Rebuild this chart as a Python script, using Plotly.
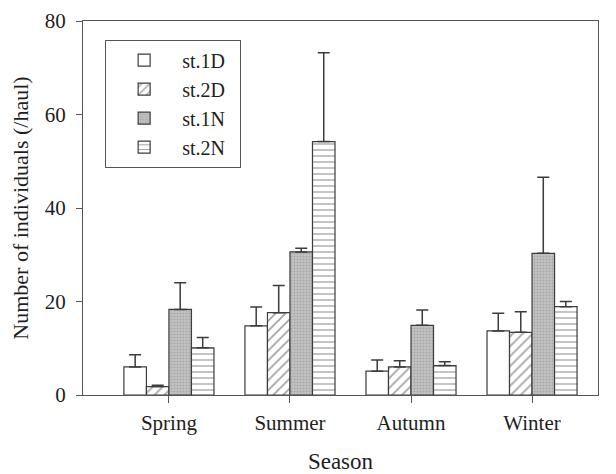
import plotly.graph_objects as go

seasons = ["Spring", "Summer", "Autumn", "Winter"]
series_names = ["st.1D", "st.2D", "st.1N", "st.2N"]
st1D = [6.0, 14.8, 5.1, 13.7]
st1D_err = [2.6, 4.0, 2.4, 3.8]
st2D = [1.8, 17.6, 6.0, 13.4]
st2D_err = [0.3, 5.8, 1.3, 4.4]
st1N = [18.3, 30.6, 14.9, 30.3]
st1N_err = [5.7, 0.8, 3.3, 16.3]
st2N = [10.1, 54.2, 6.3, 18.9]
st2N_err = [2.2, 19.0, 0.8, 1.1]

values = [st1D, st2D, st1N, st2N]
errors = [st1D_err, st2D_err, st1N_err, st2N_err]

edge = "#3c3c3c"
styles = [
    dict(color="white", pattern=None),
    dict(color="white", pattern=dict(shape="/", fgcolor="#4a4a4a", bgcolor="white", size=7, solidity=0.25)),
    dict(color="#b5b5b5", pattern=dict(shape=".", fgcolor="#8a8a8a", bgcolor="#c4c4c4", size=3, solidity=0.4)),
    dict(color="white", pattern=dict(shape="-", fgcolor="#4a4a4a", bgcolor="white", size=6, solidity=0.22)),
]

fig = go.Figure()
for i, (name, vals, errs) in enumerate(zip(series_names, values, errors)):
    st = styles[i]
    marker = dict(color=st["color"], line=dict(color=edge, width=1.2))
    if st["pattern"] is not None:
        marker["pattern"] = st["pattern"]
    fig.add_trace(go.Bar(
        x=seasons, y=vals, name=name + "\u00a0\u00a0", marker=marker,
        error_y=dict(type="data", array=errs, arrayminus=[0] * len(errs),
                     symmetric=False, color=edge, thickness=1.5, width=6),
    ))

font_family = "Liberation Serif, Times New Roman, serif"
fig.update_layout(
    width=616, height=474,
    margin=dict(l=83, r=18, t=21, b=79),
    paper_bgcolor="white", plot_bgcolor="white",
    barmode="group", bargap=0.256, bargroupgap=0,
    font=dict(family=font_family, size=21, color="#1e1e1e"),
    showlegend=True,
    legend=dict(
        x=0.043, y=0.95, xanchor="left", yanchor="top",
        bordercolor="#555555", borderwidth=1, bgcolor="white",
        font=dict(family=font_family, size=20, color="#1e1e1e"),
        itemwidth=66,
    ),
)
fig.update_xaxes(
    range=[-0.71, 3.545], automargin=False,
    showline=True, linecolor="#555555", linewidth=1.2, mirror=True,
    ticks="outside", ticklen=7, tickcolor="#555555",
    showgrid=False,
    tickfont=dict(size=21),
    ticklabelstandoff=2,
    title=dict(text="Season", font=dict(size=23), standoff=21),
)
fig.update_yaxes(
    range=[0, 80], tickvals=[0, 20, 40, 60, 80], automargin=False,
    showline=True, linecolor="#555555", linewidth=1.2, mirror=True,
    ticks="outside", ticklen=6, tickcolor="#555555",
    showgrid=False, zeroline=False,
    tickfont=dict(size=21),
    ticklabelstandoff=6,
    title=dict(text="Number of individuals (/haul)", font=dict(size=22), standoff=10),
)

fig.write_html("out.html", config={"displayModeBar": False},
               post_script="document.body.style.margin='0';")
